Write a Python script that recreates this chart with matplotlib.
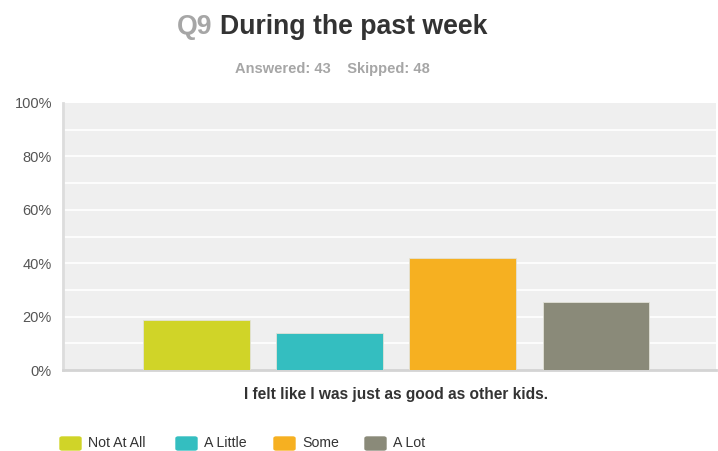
import matplotlib
matplotlib.use("Agg")
import matplotlib.pyplot as plt
from matplotlib.patches import FancyBboxPatch

plt.rcParams['font.family'] = ['Liberation Sans', 'DejaVu Sans']

categories = ["Not At All", "A Little", "Some", "A Lot"]
values = [18.60, 13.95, 41.86, 25.58]
colors = ["#d0d428", "#34bec0", "#f6b021", "#8a8a79"]
yticks = [0, 20, 40, 60, 80, 100]
ytick_labels = ["0%", "20%", "40%", "60%", "80%", "100%"]
question = "I felt like I was just as good as other kids."

fig = plt.figure(figsize=(7.18, 4.51), dpi=100)
ax = fig.add_axes([63/718, 1 - 370/451, 653/718, 267/451])
ax.set_facecolor("#efefef")

xs = list(range(len(categories)))
ax.bar(xs, values, width=0.8, color=colors, edgecolor="#e2e2d8", linewidth=0.6, zorder=3)

ax.set_xlim(-1.0, 3.9)
ax.set_ylim(0, 100)
for y in range(10, 100, 10):
    ax.axhline(y, color="white", linewidth=1.2, zorder=1)
ax.set_yticks(yticks)
ax.set_yticklabels(ytick_labels, fontsize=10.5, color="#555555")
ax.tick_params(axis='y', length=0, pad=8)
ax.set_xticks([])
for s in ["top", "right"]:
    ax.spines[s].set_visible(False)
ax.spines["left"].set_color("#dcdcdc")
ax.spines["left"].set_linewidth(2)
ax.spines["bottom"].set_color("#d4d4d4")
ax.spines["bottom"].set_linewidth(2)

fig.text(396/718, 1 - 395/451, question, ha="center", va="center",
         fontsize=11.2, fontweight="bold", color="#333333")

# Title
t1 = fig.text(177/718, 1 - 27/451, "Q9", ha="left", va="center",
              fontsize=19.2, fontweight="bold", color="#a6a6a6")
fig.canvas.draw()
bb = t1.get_window_extent()
fig.text((bb.x1 + 7) / 718, 1 - 27/451, "During the past week", ha="left", va="center",
         fontsize=19.2, fontweight="bold", color="#333333")
fig.text(332/718, 1 - 68.5/451, "Answered: 43    Skipped: 48", ha="center", va="center",
         fontsize=10.5, fontweight="bold", color="#a6a6a6")

# Legend
leg_x = [60, 176, 274, 365]
for xp, lab, c in zip(leg_x, categories, colors):
    fig.patches.append(FancyBboxPatch((xp/718, 1 - 450/451), 21/718, 13/451,
                                      boxstyle="round,pad=0,rounding_size=0.003",
                                      transform=fig.transFigure, color=c, figure=fig))
    fig.text((xp + 28)/718, 1 - 443/451, lab, ha="left", va="center",
             fontsize=10.2, color="#333333")

fig.savefig("out.png", dpi=100)
